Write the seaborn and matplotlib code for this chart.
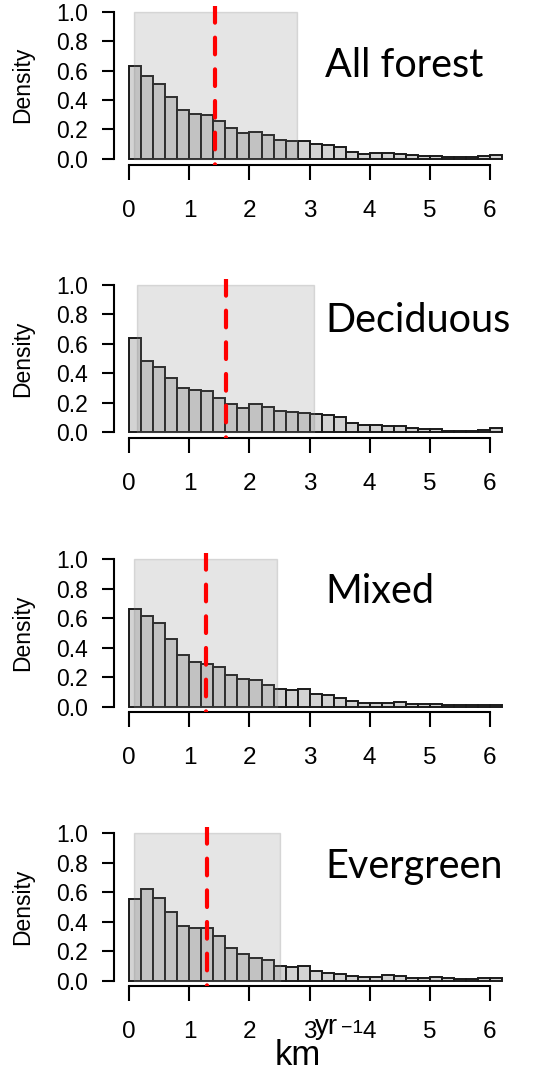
import numpy as np
import pandas as pd
import matplotlib
matplotlib.use("Agg")
import matplotlib.pyplot as plt
import seaborn as sns

# Histogram bins (km per year), width 0.2 from 0 to 6.2
bin_edges = [round(0.2 * k, 2) for k in range(32)]
bin_centers = [round(0.2 * k + 0.1, 2) for k in range(31)]

panel_names = ["All forest", "Deciduous", "Mixed", "Evergreen"]

dens_all = [0.631, 0.561, 0.511, 0.419, 0.335, 0.308, 0.301, 0.260, 0.210, 0.179,
            0.183, 0.161, 0.129, 0.124, 0.124, 0.104, 0.093, 0.081, 0.050, 0.034,
            0.041, 0.041, 0.034, 0.027, 0.023, 0.023, 0.016, 0.011, 0.011, 0.020, 0.027]
dens_deciduous = [0.638, 0.484, 0.446, 0.371, 0.303, 0.285, 0.278, 0.229, 0.195, 0.167,
                  0.190, 0.174, 0.147, 0.140, 0.133, 0.124, 0.118, 0.100, 0.063, 0.050,
                  0.050, 0.043, 0.041, 0.029, 0.023, 0.020, 0.009, 0.009, 0.009, 0.016, 0.029]
dens_mixed = [0.661, 0.618, 0.570, 0.457, 0.348, 0.303, 0.292, 0.265, 0.213, 0.190,
              0.183, 0.147, 0.120, 0.115, 0.120, 0.088, 0.075, 0.059, 0.036, 0.025,
              0.025, 0.025, 0.029, 0.016, 0.016, 0.016, 0.011, 0.007, 0.007, 0.011, 0.011]
dens_evergreen = [0.554, 0.622, 0.563, 0.462, 0.369, 0.360, 0.360, 0.301, 0.222, 0.183,
                  0.156, 0.136, 0.100, 0.093, 0.100, 0.068, 0.054, 0.045, 0.029, 0.025,
                  0.025, 0.038, 0.034, 0.018, 0.018, 0.023, 0.016, 0.011, 0.011, 0.014, 0.016]
densities = [dens_all, dens_deciduous, dens_mixed, dens_evergreen]

# Central interval (shaded) and median (red dashed line) per forest type
interval_low = [0.08, 0.12, 0.08, 0.08]
interval_high = [2.79, 3.08, 2.46, 2.51]
medians = [1.42, 1.61, 1.27, 1.30]

# Vertical position of each panel's label (data units)
label_y = [0.557, 0.683, 0.704, 0.697]

x_ticks = [0, 1, 2, 3, 4, 5, 6]
y_ticks = [0.0, 0.2, 0.4, 0.6, 0.8, 1.0]

sns.set_theme(style="white")
plt.rcParams["font.family"] = ["Liberation Sans", "DejaVu Sans"]
plt.rcParams["axes.linewidth"] = 1.5

W, H = 542, 1070
fig = plt.figure(figsize=(W / 100, H / 100), dpi=100)

ax_left_px, ax_right_px = 114.4, 516.8
ax_tops_px = [5.8, 279.1, 553.4, 827.4]
ax_h_px = 159.0

for i, name in enumerate(panel_names):
    top = ax_tops_px[i]
    ax = fig.add_axes([ax_left_px / W, 1 - (top + ax_h_px) / H,
                       (ax_right_px - ax_left_px) / W, ax_h_px / H])
    df = pd.DataFrame({"speed": bin_centers, "density": densities[i]})
    sns.histplot(data=df, x="speed", weights="density", bins=bin_edges,
                 stat="count", color="#d3d3d3", alpha=1.0,
                 edgecolor="#1a1a1a", linewidth=1.4, ax=ax)
    # shaded central interval drawn over the bars
    ax.fill_between([interval_low[i], interval_high[i]], 0, 1.0,
                    facecolor=(0.5, 0.5, 0.5, 0.2),
                    edgecolor=(0.5, 0.5, 0.5, 0.25), linewidth=1.0, zorder=3)
    # median speed, dashes starting from the top of the panel
    ax.axvline(medians[i], ymin=1, ymax=0, color="#ff0000", linewidth=3.0,
               linestyle=(0, (4.0, 3.6)), dash_capstyle="round", zorder=4)

    ax.set_xlim(-0.248, 6.448)
    ax.set_ylim(-0.04, 1.04)
    ax.set_xticks(x_ticks)
    ax.set_xticklabels([str(t) for t in x_ticks], fontsize=17.5)
    ax.set_yticks(y_ticks)
    ax.set_yticklabels([f"{t:.1f}" for t in y_ticks], fontsize=16.5)
    ax.tick_params(axis="x", direction="out", length=11, width=1.5,
                   pad=14, colors="black", bottom=True)
    ax.tick_params(axis="y", direction="out", length=9, width=1.5,
                   pad=10, colors="black", left=True)
    for s in ["top", "right"]:
        ax.spines[s].set_visible(False)
    ax.spines["left"].set_bounds(0, 1)
    ax.spines["bottom"].set_bounds(0, 6)
    ax.spines["left"].set_color("black")
    ax.spines["bottom"].set_color("black")
    ax.set_xlabel("")
    ax.set_ylabel("Density", fontsize=16.5, labelpad=16, color="black")
    ax.set_facecolor("white")
    ax.text(3.26, label_y[i], name, fontsize=28.5, family=["Lato", "DejaVu Sans"],
            ha="left", va="baseline", color="black", clip_on=False, zorder=5)

# axis unit label: km with a raised "yr" and a smaller "−1"
def px_text(x, y, s, size):
    fig.text(x / W, 1 - y / H, s, fontsize=size, ha="left", va="baseline",
             color="black")

px_text(275, 1065, "km", 25)
px_text(315, 1034, "yr", 20)
px_text(341, 1033, "\u22121", 14)

fig.savefig("out.png", dpi=100, facecolor="white")
